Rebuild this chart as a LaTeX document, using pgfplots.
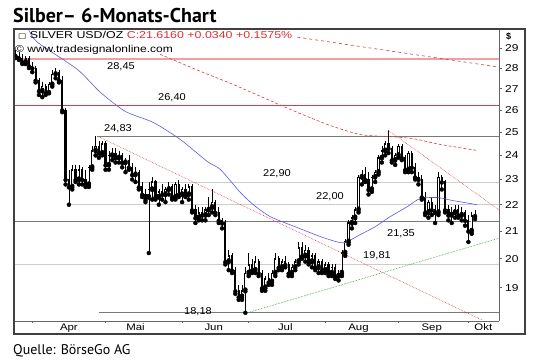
\documentclass[border=0pt]{standalone}
\usepackage{pgfplots}
\pgfplotsset{compat=1.18}
\usepackage{pgfplotstable}
\usepackage{fontspec}
\setmainfont{Liberation Sans}
\newfontfamily\titlefont{PT Sans}
\newfontfamily\symfont{DejaVu Sans}
\definecolor{ma}{RGB}{90,90,230}
\definecolor{rd}{RGB}{220,60,70}
\definecolor{pk}{RGB}{240,160,165}
\definecolor{gr}{RGB}{40,150,40}
\definecolor{lg}{RGB}{205,205,205}
\definecolor{dg}{RGB}{120,120,120}
\definecolor{hr}{RGB}{225,45,45}
\pgfplotstableread{
i o h l c
-5 28.7 28.9 28.5 28.6
-4 28.6 28.8 28.4 28.5
-3 28.5 28.7 28.2 28.3
-2 28.3 28.6 28.2 28.5
-1 28.5 28.6 28.0 28.1
0 28.1 28.3 27.8 28.0
1 28.0 28.1 27.3 27.4
2 27.4 27.5 26.7 26.9
3 26.9 27.3 26.6 27.1
4 27.1 27.2 26.7 26.8
5 26.8 27.3 26.8 27.2
6 27.2 27.9 27.1 27.7
7 27.7 28.0 27.5 27.8
8 27.8 27.9 27.3 27.4
9 27.4 27.6 25.9 26.0
10 26.0 26.1 22.8 23.0
11 23.0 23.4 22.0 22.7
12 22.7 23.6 22.6 23.4
13 23.4 23.6 22.9 23.0
14 23.0 23.6 22.8 23.4
15 23.4 23.5 22.8 23.0
16 23.0 23.4 22.7 22.8
17 22.8 23.6 22.7 23.5
18 23.5 24.4 23.4 24.2
19 24.2 24.83 24.0 24.4
20 24.4 24.6 23.9 24.1
21 24.1 24.6 24.0 24.5
22 24.5 24.6 23.4 23.6
23 23.6 24.2 23.4 24.0
24 24.0 24.3 23.8 24.1
25 24.1 24.3 23.7 23.9
26 23.9 24.2 23.7 24.0
27 24.0 24.1 23.5 23.7
28 23.7 23.9 23.3 23.8
29 23.8 24.0 23.4 23.5
30 23.5 23.7 23.0 23.2
31 23.2 23.5 22.9 23.3
32 23.3 23.4 22.6 22.7
33 22.7 22.9 22.3 22.4
34 22.4 22.6 22.1 22.2
35 22.3 22.9 20.2 22.6
36 22.6 23.1 22.2 22.9
37 22.9 23.0 22.2 22.3
38 22.3 22.6 22.0 22.5
39 22.5 22.8 22.2 22.4
40 22.4 22.7 22.1 22.6
41 22.6 22.9 22.4 22.7
42 22.7 22.8 22.2 22.3
43 22.3 22.9 22.2 22.8
44 22.8 23.0 22.3 22.4
45 22.4 22.7 22.1 22.6
46 22.6 22.8 22.3 22.4
47 22.4 22.8 22.2 22.7
48 22.7 22.8 21.7 21.8
49 21.8 22.0 21.3 21.5
50 21.5 21.9 21.4 21.7
51 21.7 21.9 21.4 21.6
52 21.6 21.9 21.4 21.8
53 21.8 22.3 21.6 21.9
54 21.9 22.6 21.7 22.1
55 22.1 22.2 21.6 21.7
56 21.7 21.9 21.3 21.4
57 21.4 21.5 21.1 21.3
58 21.3 21.4 19.8 19.9
59 19.9 20.3 19.6 20.1
60 20.1 20.2 19.5 19.6
61 19.6 19.7 18.8 18.9
62 18.9 19.1 18.6 18.7
63 18.7 19.1 18.6 18.9
64 18.9 19.7 18.18 19.5
65 19.5 20.2 19.4 19.8
66 19.8 20.0 19.5 19.6
67 19.6 20.1 19.5 19.9
68 19.9 20.0 19.4 19.5
69 19.5 19.6 18.9 19.0
70 19.0 19.4 18.9 19.3
71 19.3 19.5 19.1 19.2
72 19.2 19.6 19.1 19.5
73 19.5 20.2 19.4 20.0
74 20.0 20.1 19.6 19.7
75 19.7 20.0 19.6 19.9
76 19.9 20.1 19.7 19.8
77 19.8 19.9 19.4 19.5
78 19.5 19.8 19.4 19.7
79 19.7 20.0 19.6 19.9
80 19.9 20.6 19.8 20.4
81 20.4 20.6 20.0 20.1
82 20.1 20.5 19.9 20.3
83 20.3 20.4 19.8 19.9
84 19.9 20.2 19.7 20.1
85 20.1 20.2 19.6 19.7
86 19.7 20.0 19.5 19.9
87 19.9 20.0 19.5 19.6
88 19.6 19.9 19.5 19.8
89 19.8 19.9 19.4 19.5
90 19.5 19.8 19.4 19.7
91 19.7 19.8 19.3 19.4
92 19.4 19.6 19.25 19.5
93 19.5 20.3 19.4 20.2
94 20.2 20.7 20.1 20.6
95 20.6 21.4 20.5 21.3
96 21.3 21.6 21.1 21.5
97 21.5 21.9 21.3 21.8
98 21.8 23.2 21.7 23.1
99 23.1 23.4 22.8 23.2
100 23.2 23.5 22.9 23.0
101 23.0 23.3 22.4 22.6
102 22.6 23.2 22.5 23.1
103 23.1 23.4 22.9 23.3
104 23.3 24.0 23.2 23.9
105 23.9 24.4 23.7 24.2
106 24.2 24.6 24.0 24.5
107 24.5 25.1 24.1 24.3
108 24.3 24.4 23.7 23.8
109 23.8 24.1 23.6 24.0
110 24.0 24.5 23.9 24.4
111 24.4 24.5 23.8 23.9
112 23.9 24.0 23.3 23.4
113 23.4 24.2 23.3 24.1
114 24.1 24.2 23.3 23.5
115 23.5 23.7 23.0 23.1
116 23.1 23.3 22.8 23.0
117 23.0 23.2 22.2 22.3
118 22.3 22.5 21.6 21.7
119 21.7 22.2 21.5 22.1
120 22.1 22.3 21.6 21.8
121 21.8 22.0 21.3 21.7
122 21.7 23.3 21.6 23.1
123 23.1 23.2 22.6 22.9
124 22.9 23.0 21.7 21.8
125 21.8 22.0 21.4 21.6
126 21.6 21.9 21.3 21.7
127 21.7 22.0 21.5 21.8
128 21.8 22.0 21.5 21.6
129 21.6 21.9 21.4 21.7
130 21.7 21.8 21.2 21.4
131 21.4 21.6 20.6 21.0
132 21.0 21.7 20.9 21.58
133 21.58 21.8 21.45 21.62
}\candles
\begin{document}
\begin{tikzpicture}[x=1pt,y=1pt]
\useasboundingbox (-14,-40) rectangle (526,321);
\node[anchor=base west, inner sep=0pt, font=\titlefont\bfseries\fontsize{20}{22}\selectfont] at (-1,298) {Silber– 6-Monats-Chart};
\node[anchor=base west, inner sep=0pt, font=\titlefont\fontsize{14}{16}\selectfont] at (-1,-33) {Quelle: BörseGo AG};
\begin{axis}[
  at={(0,0)}, anchor=south west,
  scale only axis, width=485pt, height=292pt,
  xmin=-5.5, xmax=140.2, ymin=17.92, ymax=30,
  ymode=log,
  axis x line=bottom, axis y line=right,
  axis line style={black!60, -, line width=0.6pt},
  tick align=outside, major tick length=2.5pt,
  tick style={black!60, line width=0.6pt},
  xtick={0,22,45,65,88,110,131}, xticklabels={},
  extra x ticks={11,31,54.5,76,98,120,135.5},
  extra x tick labels={Apr,Mai,Jun,Jul,Aug,Sep,Okt},
  extra x tick style={major tick length=0pt},
  xticklabel style={font=\fontsize{9.5}{11}\selectfont, xscale=1.2, yshift=1pt},
  ytick={19,20,21,22,23,24,25,26,27,28,29},
  yticklabels={19,20,21,22,23,24,25,26,27,28,29},
  yticklabel style={font=\fontsize{10}{12}\selectfont, xscale=1.2, anchor=west, xshift=-0.5pt},
]
% horizontal levels
\draw[pk, line width=1.6pt] (axis cs:-6,28.45) -- (axis cs:141,28.45);
\draw[rd, line width=0.7pt] (axis cs:-6,26.2) -- (axis cs:141,26.2);
\draw[dg, line width=0.7pt] (axis cs:19.5,24.83) -- (axis cs:141,24.83);
\draw[lg, line width=0.6pt] (axis cs:30,22.9) -- (axis cs:141,22.9);
\draw[lg, line width=0.6pt] (axis cs:11,22.0) -- (axis cs:141,22.0);
\draw[dg, line width=0.7pt] (axis cs:-6,21.35) -- (axis cs:141,21.35);
\draw[lg, line width=0.6pt] (axis cs:-6,19.81) -- (axis cs:141,19.81);
\draw[dg, line width=0.7pt] (axis cs:20,18.18) -- (axis cs:141,18.18);
% wicks
\addplot[only marks, mark=none, forget plot,
  error bars/.cd, y dir=plus, y explicit, error mark=none,
  error bar style={black, solid, line width=0.6pt}]
  table[x=i, y=l, y error expr=\thisrow{h}-\thisrow{l}] {\candles};
% bodies
\addplot[only marks, mark=none, forget plot,
  error bars/.cd, y dir=plus, y explicit, error mark=none,
  error bar style={black, solid, line width=2.2pt}]
  table[x=i, y expr={min(\thisrow{o},\thisrow{c})-0.02}, y error expr={abs(\thisrow{c}-\thisrow{o})+0.04}] {\candles};
% hollow up candles
\addplot[only marks, mark=none, forget plot,
  restrict expr to domain={\thisrow{c}-\thisrow{o}}{0.1:100},
  error bars/.cd, y dir=plus, y explicit, error mark=none,
  error bar style={white, solid, line width=0.9pt}]
  table[x=i, y expr={\thisrow{o}+0.04}, y error expr={\thisrow{c}-\thisrow{o}-0.08}] {\candles};
% moving average (blue)
\addplot[ma, line width=0.6pt, mark=none, smooth, tension=0.4] coordinates {
(-1.2,30.0) (1.5,29.31) (13.5,27.94) (20.4,26.83) (27.9,25.94) (36.3,25.44)
(44.4,24.69) (52.6,23.74) (56.5,23.41) (62.5,22.48) (66.4,22.0) (71.5,21.54)
(79.6,21.13) (87.4,20.76) (93.4,20.57) (98.5,20.87) (103,21.16) (107.5,21.54)
(112.6,21.92) (116.5,22.24) (121.6,22.28) (126.4,22.16) (133.6,22.0)};
% long red average
\addplot[rd, line width=0.6pt, mark=none, densely dashed, smooth, tension=0.4] coordinates {
(38.4,28.69) (50.5,27.84) (59.5,27.26) (68.5,26.64) (77.5,26.03) (88.6,25.35)
(98.5,24.90) (107.5,24.81) (114.4,24.72) (122.5,24.47) (133.6,24.21)};
% red trend from header
\addplot[rd, line width=0.6pt, mark=none, dashed] coordinates {(79.6,29.57) (140.5,28.04)};
% resistance lines
\addplot[rd, line width=0.6pt, mark=none, densely dotted] coordinates {(19.5,24.83) (135.1,17.95)};
\addplot[rd, line width=0.6pt, mark=none, densely dotted] coordinates {(106.9,25.09) (140.5,21.77)};
% support line
\addplot[gr, line width=0.6pt, mark=none, densely dotted] coordinates {(64.6,18.18) (140.5,20.75)};
\end{axis}
% level labels
\begin{scope}[every node/.style={font=\fontsize{10}{12}\selectfont, xscale=1.1, inner sep=0pt}]
\node at (107,254) {28,45};
\node at (158,223) {26,40};
\node at (104,192) {24,83};
\node at (263,147) {22,90};
\node at (316,124) {22,00};
\node at (387,87) {21,35};
\node at (363,65) {19,81};
\node at (184,9) {18,18};
\end{scope}
\node[anchor=west, inner sep=0pt, font=\fontsize{10}{12}\selectfont, xscale=1.24] at (4,286) {{\symfont\fontsize{7}{8}\selectfont □} SILVER USD/OZ \textcolor{hr}{C:21.6160 +0.0340 +0.1575\%}};
\node[anchor=west, inner sep=0pt, font=\fontsize{10}{12}\selectfont, xscale=1.2] at (1,271) {© www.tradesignalonline.com};
\node[anchor=west, inner sep=0pt, font=\fontsize{9}{11}\selectfont\bfseries] at (492,285) {\$};
\draw[black!75, line width=1.3pt] (0,-13) rectangle (511,292);
\end{tikzpicture}
\end{document}
